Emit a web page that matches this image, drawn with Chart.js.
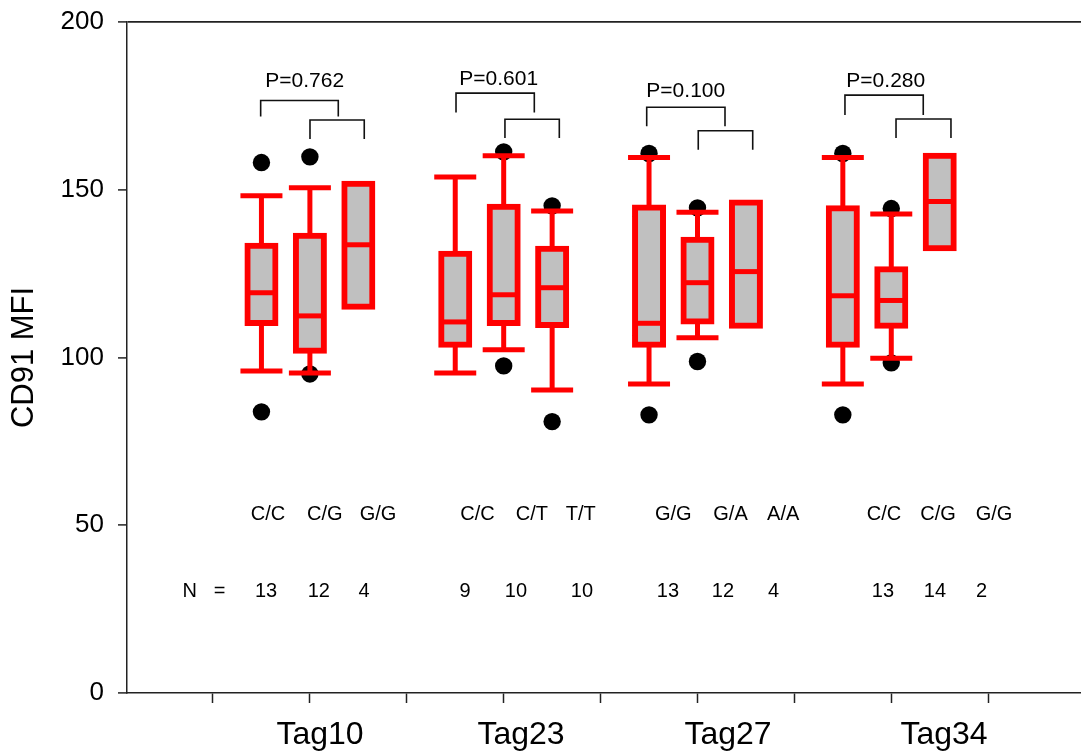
<!DOCTYPE html>
<html>
<head>
<meta charset="utf-8">
<title>CD91 MFI by genotype</title>
<script src="https://cdn.jsdelivr.net/npm/chart.js@4.4.1/dist/chart.umd.min.js"></script>
<style>
  html, body { margin: 0; padding: 0; background: #ffffff; }
  #c { display: block; }
</style>
</head>
<body>
<canvas id="c" width="1081" height="756"></canvas>
<script>
// ---- data ---------------------------------------------------------------
const tagNames    = ['Tag10', 'Tag23', 'Tag27', 'Tag34'];
const tagLabelAt  = [2.104, 4.179, 6.315, 8.544];

const genotypes   = ['C/C', 'C/G', 'G/G', 'C/C', 'C/T', 'T/T', 'G/G', 'G/A', 'A/A', 'C/C', 'C/G', 'G/G'];
const genotypeAt  = [1.568, 2.153, 2.703, 3.730, 4.292, 4.795, 5.750, 6.341, 6.885, 7.924, 8.482, 9.060];
const counts      = [13, 12, 4, 9, 10, 10, 13, 12, 4, 13, 14, 2];
const countAt     = [1.547, 2.092, 2.558, 3.601, 4.127, 4.808, 5.695, 6.263, 6.784, 7.914, 8.451, 8.933];
const countLeadAt = 0.907;
const genotypeRowY = 53.1;
const countRowY    = 30.4;

// one box per genotype, three per tag
const boxAt       = [1.5, 2, 2.5, 3.5, 4, 4.5, 5.5, 6, 6.5, 7.5, 8, 8.5];
const whiskerLow  = [96.0, 95.4, null, 95.4, 102.3, 90.3, 92.1, 105.9, null, 92.1, 99.8, null];
const quart1      = [110.3, 102.0, 115.1, 103.8, 110.3, 109.7, 103.8, 110.7, 109.5, 103.8, 109.5, 132.6];
const medians     = [119.3, 112.4, 133.6, 110.6, 118.7, 120.8, 110.2, 122.3, 125.6, 118.4, 117.0, 146.5];
const quart3      = [133.3, 136.3, 151.8, 130.9, 144.9, 132.4, 144.7, 135.1, 146.2, 144.5, 126.3, 160.1];
const whiskerHigh = [148.2, 150.6, null, 153.8, 160.1, 143.7, 159.6, 143.3, null, 159.6, 142.8, null];
const outliers    = [[158.1, 83.8], [159.8, 95.1], [], [], [161.3, 97.5], [145.2, 80.9],
                     [160.8, 82.9], [144.6, 98.8], [], [160.8, 82.9], [144.4, 98.4], []];

// comparison brackets: wide one (first genotype vs the other two), narrow one (second vs third)
const wideLeft    = [1.492, 3.508, 5.476, 7.522];
const wideRight   = [2.293, 4.316, 6.284, 8.330];
const wideTop     = [176.6, 178.8, 174.6, 178.2];
const wideFoot    = [171.8, 173.0, 168.9, 172.3];
const narrowLeft  = [2.001, 4.013, 6.008, 8.049];
const narrowRight = [2.561, 4.574, 6.570, 8.616];
const narrowTop   = [170.8, 171.0, 167.6, 171.1];
const narrowFoot  = [165.1, 165.4, 161.9, 165.4];
const pLabels     = ['P=0.762', 'P=0.601', 'P=0.100', 'P=0.280'];
const pAt         = [1.946, 3.948, 5.879, 7.943];
const pY          = [182.5, 183.0, 179.3, 182.4];

const xTicks = [1, 2, 3, 4, 5, 6, 7, 8, 9];
const yTicks = [0, 50, 100, 150, 200];

// ---- styles -------------------------------------------------------------
const RED  = '#ff0000';
const GREY = '#c0c0c0';
const AXIS = '#222222';
const FONT = '"Liberation Sans", Arial, Helvetica, sans-serif';
Chart.defaults.font.family = FONT;
Chart.defaults.color = '#000000';

// ---- datasets -----------------------------------------------------------
const upperWhiskers = [], lowerWhiskers = [], caps = [], outlierPts = [];
boxAt.forEach((x, i) => {
  if (whiskerHigh[i] !== null) {
    upperWhiskers.push({ x, y: [quart3[i], whiskerHigh[i]] });
    caps.push({ x, y: whiskerHigh[i] });
  }
  if (whiskerLow[i] !== null) {
    lowerWhiskers.push({ x, y: [whiskerLow[i], quart1[i]] });
    caps.push({ x, y: whiskerLow[i] });
  }
  outliers[i].forEach(v => outlierPts.push({ x, y: v }));
});

const datasets = [
  {
    type: 'scatter', label: 'outliers', order: 6,
    data: outlierPts,
    pointRadius: 8.7, pointBackgroundColor: '#000000', pointBorderWidth: 0, pointHoverRadius: 8.7
  },
  {
    type: 'bar', label: 'upper whiskers', order: 5,
    data: upperWhiskers, backgroundColor: RED, borderWidth: 0,
    barThickness: 5, grouped: false, inflateAmount: 0
  },
  {
    type: 'bar', label: 'lower whiskers', order: 5,
    data: lowerWhiskers, backgroundColor: RED, borderWidth: 0,
    barThickness: 5, grouped: false, inflateAmount: 0
  },
  {
    type: 'bar', label: 'boxes', order: 4,
    data: boxAt.map((x, i) => ({ x, y: [quart1[i], quart3[i]] })),
    backgroundColor: GREY, borderColor: RED, borderWidth: 6, borderSkipped: false,
    barThickness: 28, inflateAmount: 3, grouped: false
  },
  {
    type: 'scatter', label: 'medians', order: 3,
    data: boxAt.map((x, i) => ({ x, y: medians[i] })),
    pointStyle: 'line', pointRadius: 14, pointHoverRadius: 14,
    pointBorderColor: RED, borderColor: RED, pointBorderWidth: 5, borderWidth: 5
  },
  {
    type: 'scatter', label: 'caps', order: 2,
    data: caps,
    pointStyle: 'line', pointRadius: 21, pointHoverRadius: 21,
    pointBorderColor: RED, borderColor: RED, pointBorderWidth: 5, borderWidth: 5
  }
];

function bracket(left, right, top, foot) {
  return {
    type: 'line', order: 1,
    data: [{ x: left, y: foot }, { x: left, y: top }, { x: right, y: top }, { x: right, y: foot }],
    borderColor: '#111111', borderWidth: 1.6, pointRadius: 0, tension: 0, fill: false
  };
}
tagNames.forEach((t, g) => {
  datasets.push(bracket(wideLeft[g], wideRight[g], wideTop[g], wideFoot[g]));
  datasets.push(bracket(narrowLeft[g], narrowRight[g], narrowTop[g], narrowFoot[g]));
});

// ---- annotation text (genotypes, group sizes, p-values) ----------------
const groupText = {
  id: 'groupText',
  afterDatasetsDraw(chart) {
    const { ctx, scales: { x, y } } = chart;
    ctx.save();
    ctx.fillStyle = '#000000';
    ctx.textAlign = 'center';
    ctx.textBaseline = 'middle';
    ctx.font = '20px ' + FONT;
    genotypes.forEach((g, i) =>
      ctx.fillText(g, x.getPixelForValue(genotypeAt[i]), y.getPixelForValue(genotypeRowY)));
    ctx.fillText('N   =', x.getPixelForValue(countLeadAt), y.getPixelForValue(countRowY));
    counts.forEach((n, i) =>
      ctx.fillText(String(n), x.getPixelForValue(countAt[i]), y.getPixelForValue(countRowY)));
    ctx.font = '21px ' + FONT;
    pLabels.forEach((p, i) =>
      ctx.fillText(p, x.getPixelForValue(pAt[i]), y.getPixelForValue(pY[i])));
    ctx.restore();
  }
};

// ---- chart --------------------------------------------------------------
const X_MIN = 0.1125, X_MAX = 9.958;

new Chart(document.getElementById('c'), {
  type: 'bar',
  data: { datasets },
  plugins: [groupText],
  options: {
    responsive: false,
    animation: false,
    events: [],
    layout: { autoPadding: false, padding: { top: 22, left: 0, right: 0, bottom: 0 } },
    plugins: { legend: { display: false }, tooltip: { enabled: false } },
    scales: {
      x: {
        type: 'linear', min: X_MIN, max: X_MAX, offset: false,
        afterBuildTicks: s => { s.ticks = xTicks.map(v => ({ value: v })); },
        grid: { drawOnChartArea: false, offset: false, tickLength: 10, tickColor: AXIS, tickWidth: 1.5 },
        border: { display: true, color: AXIS, width: 1.5 },
        ticks: { display: false },
        afterFit: s => { s.height = 10; }
      },
      xTag: {
        type: 'linear', axis: 'x', position: 'bottom', min: X_MIN, max: X_MAX, offset: false,
        afterBuildTicks: s => { s.ticks = tagLabelAt.map(v => ({ value: v })); },
        grid: { display: false, offset: false, drawTicks: false },
        border: { display: false },
        ticks: {
          font: { size: 32 }, color: '#000000', padding: 13,
          maxRotation: 0, autoSkip: false,
          callback: (v, i) => tagNames[i]
        },
        afterFit: s => { s.height = 53; }
      },
      y: {
        type: 'linear', min: 0, max: 200,
        afterBuildTicks: s => { s.ticks = yTicks.map(v => ({ value: v })); },
        border: { display: true, color: AXIS, width: 1.5 },
        grid: {
          color: c => (c.tick && c.tick.value === 200) ? AXIS : 'rgba(0,0,0,0)',
          tickColor: AXIS, lineWidth: 1.8, tickWidth: 1.5, tickLength: 9
        },
        ticks: { font: { size: 26 }, color: '#000000', padding: 14 },
        title: {
          display: true, text: 'CD91 MFI', color: '#000000',
          font: { size: 31 }, padding: { top: 6, bottom: 0 }
        },
        afterFit: s => { s.width = 127; s.paddingTop = 0; s.paddingBottom = 0; }
      }
    }
  }
});
</script>
</body>
</html>
